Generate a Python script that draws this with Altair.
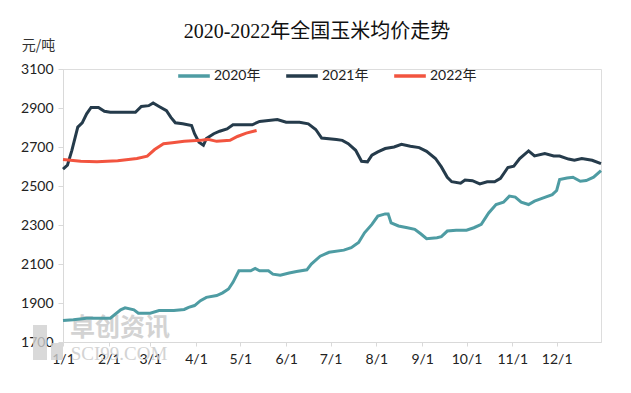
import altair as alt
import pandas as pd

# ---------------- data ----------------
d2020 = ["01-01","01-08","01-17","02-02","02-09","02-12","02-18","02-21","03-01","03-07",
         "03-17","03-24","03-27","03-31","04-04","04-08","04-15","04-19","04-23","04-26",
         "04-30","05-08","05-11","05-14","05-20","05-23","05-28","06-03","06-08","06-15",
         "06-18","06-24","06-30","07-10","07-15","07-20","07-24","07-29","08-02","08-07",
         "08-09","08-11","08-16","08-22","08-27","08-31","09-04","09-11","09-14","09-18",
         "09-24","10-01","10-06","10-11","10-16","10-21","10-26","10-30","11-03","11-07",
         "11-12","11-16","11-22","11-28","12-01","12-03","12-08","12-12","12-17","12-21",
         "12-26","12-31"]
v2020 = [1810,1814,1822,1822,1865,1875,1865,1848,1848,1861,
         1861,1867,1878,1887,1912,1929,1938,1952,1972,2006,
         2065,2065,2077,2065,2065,2048,2043,2054,2062,2070,
         2100,2140,2160,2171,2184,2210,2260,2303,2346,2357,
         2357,2311,2295,2286,2278,2255,2230,2235,2240,2269,
         2273,2273,2286,2303,2362,2405,2417,2448,2443,2417,
         2405,2422,2439,2456,2477,2533,2541,2545,2524,2528,
         2545,2579]

d2021 = ["01-01","01-04","01-07","01-11","01-14","01-17","01-20","01-25","01-29","02-02",
         "02-19","02-23","02-28","03-03","03-07","03-12","03-15","03-18","03-23","03-29",
         "03-31","04-03","04-06","04-08","04-13","04-17","04-22","04-26","05-09","05-14",
         "05-26","06-01","06-10","06-16","06-21","06-25","07-05","07-09","07-13","07-18",
         "07-22","07-26","07-29","08-02","08-07","08-13","08-18","08-24","08-30","09-04",
         "09-10","09-14","09-18","09-21","09-27","09-30","10-05","10-10","10-15","10-20",
         "10-24","10-29","11-02","11-06","11-12","11-16","11-23","11-29","12-03","12-09",
         "12-13","12-18","12-25","12-31"]
v2021 = [2587,2607,2683,2802,2824,2870,2903,2903,2883,2878,
         2878,2908,2912,2926,2908,2886,2852,2824,2819,2810,
         2768,2725,2709,2743,2768,2781,2793,2814,2814,2831,
         2841,2827,2827,2819,2790,2746,2738,2734,2717,2683,
         2627,2624,2658,2675,2692,2700,2714,2704,2697,2678,
         2641,2598,2545,2522,2514,2531,2527,2511,2522,2522,
         2539,2595,2602,2641,2680,2654,2666,2654,2654,2638,
         2632,2641,2632,2615]

d2022 = ["01-01","01-13","01-24","02-07","02-20","02-27","03-04","03-10","03-16","03-24",
         "04-04","04-09","04-15","04-24","04-29","05-05","05-12"]
v2022 = [2636,2627,2624,2629,2641,2653,2687,2717,2722,2730,
         2734,2739,2729,2734,2754,2771,2785]

series_names = ["2020年", "2021年", "2022年"]
series_colors = ["#4E9CA3", "#253B4B", "#F2543F"]
y_ticks = [1700, 1900, 2100, 2300, 2500, 2700, 2900, 3100]

rows = []
for name, ds, vs in zip(series_names, [d2020, d2021, d2022], [v2020, v2021, v2022]):
    for d, v in zip(ds, vs):
        rows.append({"date": "2021-" + d + "T00:00:00", "price": v, "year": name})
df = pd.DataFrame(rows)

LABEL_FONT = "Lato, Noto Sans CJK SC"

x_enc = alt.X(
    "date:T",
    scale=alt.Scale(domain=[alt.DateTime(year=2021, month=1, date=1),
                            alt.DateTime(year=2021, month=12, date=31)]),
    axis=alt.Axis(
        title=None,
        values=[alt.DateTime(year=2021, month=m, date=1) for m in range(1, 13)],
        format="%-m/%-d",
        labelFont=LABEL_FONT, labelFontSize=14, labelColor="#222222",
        labelPadding=6, labelFlush=False, labelOverlap=False,
        domainColor="#d9d9d9", tickColor="#d9d9d9", tickSize=4, grid=False,
    ),
)
y_enc = alt.Y(
    "price:Q",
    scale=alt.Scale(domain=[1700, 3100], nice=False, zero=False),
    axis=alt.Axis(
        title="元/吨", titleAngle=0, titleX=-25, titleY=-17,
        titleFont="Noto Sans CJK SC", titleFontSize=14, titleFontWeight="normal",
        titleColor="#333333", format="d",
        values=y_ticks, labelFont=LABEL_FONT, labelFontSize=14, labelColor="#222222",
        labelPadding=5, domainColor="#d9d9d9", tickColor="#d9d9d9", tickSize=5,
        grid=False,
    ),
)

lines = alt.Chart(df).mark_line(strokeWidth=3, interpolate="linear").encode(
    x=x_enc,
    y=y_enc,
    color=alt.Color(
        "year:N",
        scale=alt.Scale(domain=series_names, range=series_colors),
        legend=alt.Legend(
            title=None, orient="none", legendX=113, legendY=-11, direction="horizontal",
            symbolType="stroke", symbolSize=1000, symbolStrokeWidth=3.5,
            labelFont=LABEL_FONT, labelFontSize=14, labelColor="#222222",
            columnPadding=18, labelOffset=2,
        ),
    ),
    order="date:T",
)

wm = pd.DataFrame([{"k": 1}])
wm_text1 = alt.Chart(wm).mark_text(
    text="卓创资讯", font="Noto Sans CJK SC", fontSize=25, fontWeight="bold",
    color="#cccccc", opacity=0.85,
).encode(x=alt.value(57), y=alt.value(259))
wm_text2 = alt.Chart(wm).mark_text(
    text="SCI99.COM", font="Liberation Serif", fontSize=19,
    color="#cccccc", opacity=0.85,
).encode(x=alt.value(56), y=alt.value(285))
wm_logo1 = alt.Chart(wm).mark_rect(color="#cfcfcf", opacity=0.8).encode(
    x=alt.value(-30), x2=alt.value(-16), y=alt.value(256), y2=alt.value(291))
wm_logo2 = alt.Chart(wm).mark_rect(color="#cfcfcf", opacity=0.8).encode(
    x=alt.value(-12), x2=alt.value(0), y=alt.value(274), y2=alt.value(291))

chart = alt.layer(wm_logo1, wm_logo2, wm_text1, wm_text2, lines).properties(
    width=538,
    height=273,
    autosize=alt.AutoSizeParams(type="none"),
    padding={"left": 55, "top": 61, "right": 22, "bottom": 43},
    title=alt.TitleParams(
        text="2020-2022年全国玉米均价走势",
        font="Liberation Serif, Noto Sans CJK SC", fontSize=20, fontWeight="normal",
        color="#111111", anchor="middle", dx=-15, dy=12, offset=8,
    ),
).configure_view(stroke=None).configure(background="white")

chart.save("out.html", embed_options={"renderer": "svg", "actions": False})
